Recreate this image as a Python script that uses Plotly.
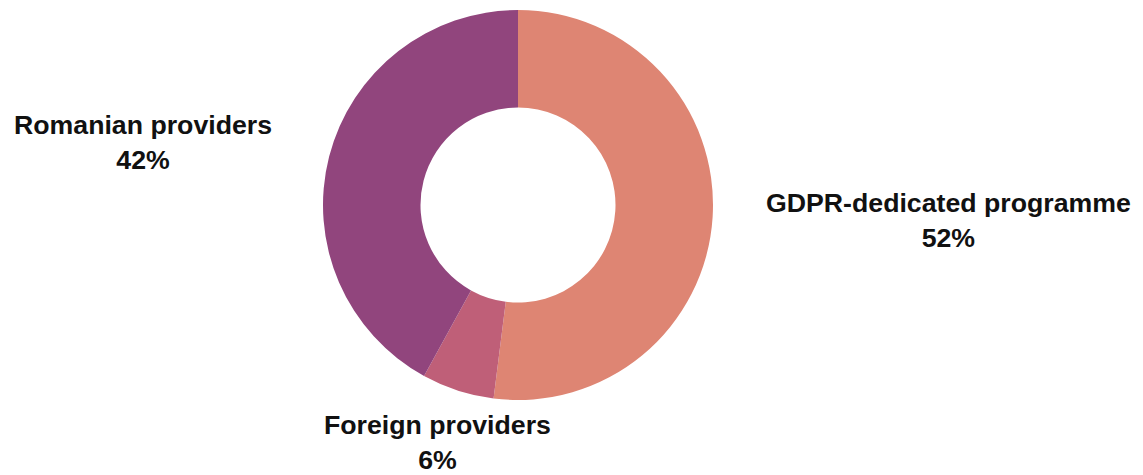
import math
import plotly.graph_objects as go

# Share of respondents by source of GDPR training
categories = ["GDPR-dedicated programme", "Foreign providers", "Romanian providers"]
shares = [52, 6, 42]
colors = ["#DE8573", "#BF5F78", "#91457D"]

W, H = 1143, 475
cx, cy, r = 518, 205, 195          # pie centre and outer radius in pixels
label_r = 250                      # distance of label anchors from the centre
fs = 26.7                          # label font size

fig = go.Figure(go.Pie(
    labels=categories,
    values=shares,
    marker=dict(colors=colors, line=dict(width=0)),
    hole=0.5,
    sort=False,
    direction="clockwise",
    rotation=0,
    textinfo="none",
    hoverinfo="label+percent",
    showlegend=False,
    domain=dict(x=[(cx - r) / W, (cx + r) / W],
                y=[1 - (cy + r) / H, 1 - (cy - r) / H]),
))

# Outside labels placed along each slice's mid-angle
total = sum(shares)
cum = 0
annotations = []
font = dict(family="Liberation Sans", size=fs, color="#111111")
for name, v in zip(categories, shares):
    mid = (cum + v / 2) / total * 2 * math.pi
    cum += v
    s, c = math.sin(mid), math.cos(mid)
    px, py = cx + label_r * s, cy - label_r * c
    if s > 0.5:
        xa = "left"
    elif s < -0.5:
        xa = "right"
    else:
        xa = "center"
    pct = round(v / total * 100)
    annotations.append(dict(
        x=px / W, y=1 - py / H, xref="paper", yref="paper",
        text=f"<b>{name}</b><br><b>{pct}%</b>",
        showarrow=False, xanchor=xa, yanchor="middle", xshift=-3,
        font=font, align="center", borderpad=0,
    ))

fig.update_layout(
    width=W, height=H,
    margin=dict(l=0, r=0, t=0, b=0),
    paper_bgcolor="white", plot_bgcolor="white",
    annotations=annotations,
)

fig.write_html("out.html")
